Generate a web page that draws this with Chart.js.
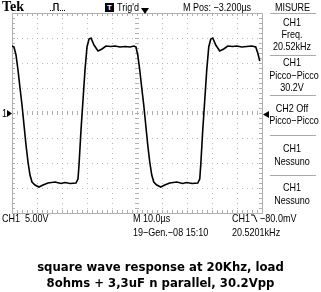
<!DOCTYPE html>
<html lang="it">
<head>
<meta charset="UTF-8">
<title>Tek square wave</title>
<script src="https://cdn.jsdelivr.net/npm/chart.js"></script>
<style>
    body { margin: 0; background: #fff; }
    #wrap { position: relative; width: 321px; height: 292px; overflow: hidden; background: #fff; }
    canvas { position: absolute; left: 0; top: 0; }
    .t { position: absolute; font-family: "Liberation Sans", Arial, sans-serif; font-size: 11px; line-height: 12px;
         white-space: nowrap; color: #000; transform-origin: 0 50%; transform: scaleX(0.82); }
    .c { transform-origin: 50% 50%; transform: translateX(-50%) scaleX(0.82); }
    .cap { position: absolute; left: 0; width: 321px; text-align: center; font-family: "DejaVu Sans", Verdana, sans-serif;
           font-weight: bold; font-size: 11.7px; line-height: 16px; color: #000; }
    .sep { position: absolute; height: 1px; background: #aaa; }
</style>
</head>
<body>
<div id="wrap">
    <canvas id="scope" width="321" height="292"></canvas>

    <div class="t" style="left:2px;top:1px;font-family:'Liberation Serif',serif;font-weight:bold;font-size:14px;transform:none;">Tek</div>
    <svg style="position:absolute;left:50px;top:2px" width="18" height="10">
        <polyline points="0,8.5 4,8.5 4,1.5 8,1.5 8,8.5 16,8.5" fill="none" stroke="#000" stroke-width="1" stroke-dasharray="1,1"/>
        <polyline points="4,8.5 4,1.5 8,1.5 8,8.5" fill="none" stroke="#000" stroke-width="1"/>
    </svg>
    <div style="position:absolute;left:105px;top:3px;width:9px;height:9px;background:#000;color:#fff;font:bold 8px 'Liberation Sans',sans-serif;text-align:center;line-height:9px;">T</div>
    <div class="t" style="left:117px;top:1px;">Trig'd</div>
    <div class="t" style="left:183px;top:1px;">M Pos: −3.200µs</div>
    <div class="t" style="left:275px;top:1px;">MISURE</div>

    <div class="sep" style="left:270px;top:13px;width:46px;"></div>
    <div class="t c" style="left:292px;top:16px;">CH1</div>
    <div class="t c" style="left:292px;top:28px;">Freq.</div>
    <div class="t c" style="left:292px;top:40px;">20.52kHz</div>
    <div class="sep" style="left:270px;top:55px;width:46px;"></div>
    <div class="t c" style="left:292px;top:56px;">CH1</div>
    <div class="t c" style="left:294px;top:69px;">Picco−Picco</div>
    <div class="t c" style="left:292px;top:81px;">30.2V</div>
    <div class="sep" style="left:270px;top:95px;width:46px;"></div>
    <div class="t c" style="left:292px;top:102px;">CH2 Off</div>
    <div class="t c" style="left:294px;top:114px;">Picco−Picco</div>
    <div class="sep" style="left:270px;top:135px;width:46px;"></div>
    <div class="t c" style="left:292px;top:142px;">CH1</div>
    <div class="t c" style="left:292px;top:155px;">Nessuno</div>
    <div class="sep" style="left:270px;top:175px;width:46px;"></div>
    <div class="t c" style="left:292px;top:181px;">CH1</div>
    <div class="t c" style="left:292px;top:194px;">Nessuno</div>

    <div class="t" style="left:2px;top:107px;">1</div>
    <svg style="position:absolute;left:7px;top:110px" width="5" height="7"><polygon points="0,0 5,3.5 0,7" fill="#000"/></svg>
    <svg style="position:absolute;left:263px;top:111px" width="6" height="7"><polygon points="6,0 0,3.5 6,7" fill="#000"/><line x1="3" y1="3.5" x2="6" y2="3.5" stroke="#000"/></svg>
    <svg style="position:absolute;left:141px;top:7px" width="8" height="8"><polygon points="0,1 8,1 4,7" fill="#000"/></svg>

    <div class="t" style="left:2px;top:212px;">CH1&nbsp;&nbsp;5.00V</div>
    <div class="t" style="left:133px;top:212px;">M 10.0µs</div>
    <div class="t" style="left:232px;top:212px;">CH1&nbsp;&nbsp;&nbsp;&nbsp;−80.0mV</div>
    <svg style="position:absolute;left:251px;top:214px" width="7" height="9"><polyline points="0,1 3,1 6,8" fill="none" stroke="#000" stroke-width="1"/></svg>
    <div class="t" style="left:133px;top:226px;">19−Gen.−08 15:10</div>
    <div class="t" style="left:232px;top:226px;">20.5201kHz</div>

    <div class="cap" style="top:259px;">square wave response at 20Khz, load</div>
    <div class="cap" style="top:275px;">8ohms + 3,3uF n parallel, 30.2Vpp</div>
</div>

<script>
    // time in microseconds (10 us/div), CH1 volts (5 V/div)
    const timeUs = [
        0, 0.8, 1.6, 2.4, 3.2, 4.0, 4.8, 5.6, 6.4, 7.2, 8.0, 9.2, 10.8, 12.4, 14.4, 17.2, 19.6, 21.2, 23.2, 25.6,
        26.4, 26.8, 27.6, 28.4, 29.2, 30.0, 30.8, 31.6, 32.8, 34.4, 36.0, 37.6, 39.6, 41.2, 43.2, 45.2, 47.2, 48.8,
        49.6, 50.3, 51.1, 51.9, 52.7, 53.5, 54.3, 55.1, 55.9, 56.7, 57.9, 59.5, 61.1, 63.1, 65.9, 68.3, 69.9, 72.1, 74.3,
        75.1, 75.5, 76.3, 77.1, 77.9, 78.7, 79.5, 80.3, 81.5, 83.1, 84.7, 86.3, 88.3, 89.9, 91.9, 93.9, 95.9, 97.5,
        98.3, 99.1, 100
    ];
    const volts = [
        13.4, 13.2, 11.6, 8.6, 5.0, 1.6, -2.4, -6.4, -9.8, -12.4, -13.8, -14.4, -14.8, -14.4, -14.0, -13.8, -14.1, -13.9, -14.1, -14.0,
        -13.2, -10.4, -3.4, 2.6, 8.6, 13.2, 14.8, 15.0, 13.6, 12.4, 12.8, 13.4, 13.3, 13.4, 13.2, 13.3, 13.2, 13.4,
        13.2, 11.6, 8.6, 5.0, 1.6, -2.4, -6.4, -9.8, -12.4, -13.8, -14.4, -14.8, -14.4, -14.0, -13.8, -14.1, -13.9, -14.1, -14.0,
        -13.2, -10.4, -3.4, 2.6, 8.6, 13.2, 14.8, 15.0, 13.6, 12.4, 12.8, 13.4, 13.3, 13.4, 13.2, 13.3, 13.4,
        13.2, 12.0, 10.4
    ];

    const xMin = 0, xMax = 100, xDiv = 10;
    const yMin = -20, yMax = 20, yDiv = 5;

    const graticule = {
        id: 'graticule',
        beforeDatasetsDraw(chart) {
            const ctx = chart.ctx;
            const a = chart.chartArea;
            const xs = chart.scales.x, ys = chart.scales.y;
            const cx = xs.getPixelForValue((xMin + xMax) / 2);
            const cy = ys.getPixelForValue(0);
            ctx.save();
            ctx.fillStyle = '#b8b8b8';
            // dotted division lines
            for (let v = xMin + xDiv; v < xMax; v += xDiv) {
                const px = Math.round(xs.getPixelForValue(v));
                for (let y = a.top; y <= a.bottom; y += 5) ctx.fillRect(px, Math.round(y), 1, 1);
            }
            for (let v = yMin + yDiv; v < yMax; v += yDiv) {
                const py = Math.round(ys.getPixelForValue(v));
                for (let x = a.left; x <= a.right; x += 5) ctx.fillRect(Math.round(x), py, 1, 1);
            }
            // border
            ctx.strokeStyle = '#b0b0b0';
            ctx.lineWidth = 1;
            ctx.strokeRect(Math.round(a.left) + 0.5, Math.round(a.top) + 0.5, Math.round(a.right - a.left), Math.round(a.bottom - a.top));
            // minor ticks on border and center lines
            ctx.beginPath();
            for (let x = a.left; x <= a.right; x += 5) {
                const px = Math.round(x) + 0.5;
                ctx.moveTo(px, a.top); ctx.lineTo(px, a.top + 3);
                ctx.moveTo(px, a.bottom); ctx.lineTo(px, a.bottom - 3);
                ctx.moveTo(px, cy - 2); ctx.lineTo(px, cy + 2);
            }
            for (let y = a.top; y <= a.bottom; y += 5) {
                const py = Math.round(y) + 0.5;
                ctx.moveTo(a.left, py); ctx.lineTo(a.left + 3, py);
                ctx.moveTo(a.right, py); ctx.lineTo(a.right - 3, py);
                ctx.moveTo(cx - 2, py); ctx.lineTo(cx + 2, py);
            }
            ctx.stroke();
            ctx.restore();
        }
    };

    new Chart(document.getElementById('scope').getContext('2d'), {
        type: 'line',
        data: {
            datasets: [{
                data: timeUs.map((t, i) => ({ x: t, y: volts[i] })),
                borderColor: '#000',
                borderWidth: 1.6,
                pointRadius: 0,
                tension: 0,
                fill: false
            }]
        },
        options: {
            responsive: false,
            animation: false,
            layout: { padding: { left: 12, top: 13, right: 59, bottom: 79 } },
            scales: {
                x: { type: 'linear', min: xMin, max: xMax, display: false },
                y: { type: 'linear', min: yMin, max: yMax, display: false }
            },
            plugins: { legend: { display: false }, tooltip: { enabled: false } }
        },
        plugins: [graticule]
    });
</script>
</body>
</html>
